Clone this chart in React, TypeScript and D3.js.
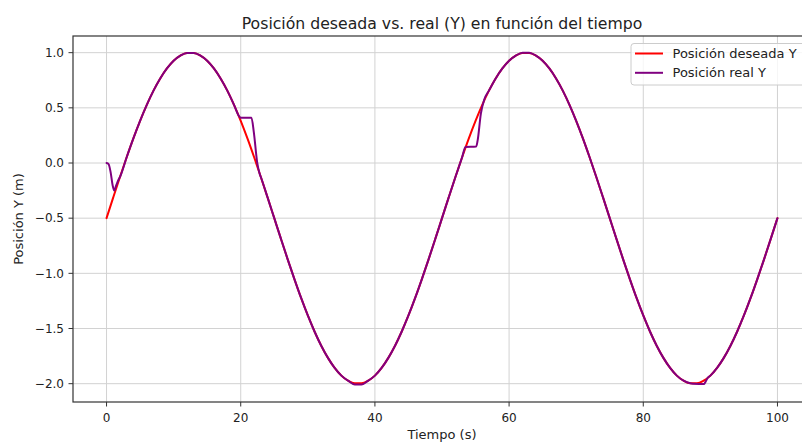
import React from "react";
import * as d3 from "d3";

const titleText = "Posición deseada vs. real (Y) en función del tiempo";
const xLabel = "Tiempo (s)";
const yLabel = "Posición Y (m)";
const seriesNames = ["Posición deseada Y", "Posición real Y"];
const seriesColors = ["#ff0000", "#800080"];

const xTicks = [0, 20, 40, 60, 80, 100];
const yTicks = [1.0, 0.5, 0.0, -0.5, -1.0, -1.5, -2.0];

// desired position, sampled each second from t = 0 to t = 100
const desiredTime = d3.range(0, 101);
const desiredY = [
  -0.5, -0.312, -0.127, 0.052, 0.223, 0.382, 0.527, 0.656, 0.766, 0.857,
  0.927, 0.973, 0.997, 0.997, 0.973, 0.927, 0.857, 0.766, 0.656, 0.527,
  0.382, 0.223, 0.052, -0.127, -0.312, -0.5, -0.688, -0.873, -1.052, -1.223,
  -1.382, -1.527, -1.656, -1.766, -1.857, -1.927, -1.973, -1.997, -1.997, -1.973,
  -1.927, -1.857, -1.766, -1.656, -1.527, -1.382, -1.223, -1.052, -0.873, -0.688,
  -0.5, -0.312, -0.127, 0.052, 0.223, 0.382, 0.527, 0.656, 0.766, 0.857,
  0.927, 0.973, 0.997, 0.997, 0.973, 0.927, 0.857, 0.766, 0.656, 0.527,
  0.382, 0.223, 0.052, -0.127, -0.312, -0.5, -0.688, -0.873, -1.052, -1.223,
  -1.382, -1.527, -1.656, -1.766, -1.857, -1.927, -1.973, -1.997, -1.997, -1.973,
  -1.927, -1.857, -1.766, -1.656, -1.527, -1.382, -1.223, -1.052, -0.873, -0.688,
  -0.5,
];

// real position
const realTime = [
  0, 0.3, 0.6, 0.9, 1.15, 1.4, 1.8, 2, 3, 4, 5, 6, 7, 8, 9, 10, 11, 12, 13, 14,
  15, 16, 17, 18, 19, 19.8, 20, 21.6, 21.95, 22.45, 22.8, 23, 24, 25, 26, 27, 28,
  29, 30, 31, 32, 33, 34, 35, 36, 37, 38, 39, 40, 41, 42, 43, 44, 45, 46, 47, 48,
  49, 50, 51, 52, 53, 53.5, 55.1, 55.3, 55.8, 56.3, 57, 58, 59, 60, 61, 62, 63,
  64, 65, 66, 67, 68, 69, 70, 71, 72, 73, 74, 75, 76, 77, 78, 79, 80, 81, 82, 83,
  84, 85, 86, 87, 87.5, 89, 89.6, 90, 91, 92, 93, 94, 95, 96, 97, 98, 99, 100,
];
const realY = [
  0, -0.01, -0.08, -0.2, -0.25, -0.21, -0.15, -0.127, 0.052, 0.223, 0.382, 0.527,
  0.656, 0.766, 0.857, 0.927, 0.973, 0.997, 0.997, 0.973, 0.927, 0.857, 0.766,
  0.656, 0.527, 0.42, 0.41, 0.41, 0.28, 0.006, -0.093, -0.127, -0.312, -0.5,
  -0.688, -0.873, -1.052, -1.223, -1.382, -1.527, -1.656, -1.766, -1.857, -1.927,
  -1.973, -2.008, -2.008, -1.973, -1.927, -1.857, -1.766, -1.656, -1.527, -1.382,
  -1.223, -1.052, -0.873, -0.688, -0.5, -0.312, -0.127, 0.052, 0.145, 0.15, 0.2,
  0.45, 0.575, 0.656, 0.766, 0.857, 0.927, 0.973, 1.0, 1.0, 0.973, 0.927, 0.857,
  0.766, 0.656, 0.527, 0.382, 0.223, 0.052, -0.127, -0.312, -0.5, -0.688, -0.873,
  -1.052, -1.223, -1.382, -1.527, -1.656, -1.766, -1.857, -1.927, -1.973, -1.997,
  -2.0, -2.003, -1.947, -1.927, -1.857, -1.766, -1.656, -1.527, -1.382, -1.223,
  -1.052, -0.873, -0.688, -0.5,
];

const W = 802;
const H = 442;
const left = 73;
const right = 811;
const top = 36;
const bottom = 402;
const FONT = "'DejaVu Sans', 'Liberation Sans', sans-serif";

export default function App() {
  const x = d3.scaleLinear().domain([-5, 105]).range([left, right]);
  const y = d3.scaleLinear().domain([-2.166, 1.151]).range([bottom, top]);

  const line = d3
    .line<[number, number]>()
    .x((d) => x(d[0]))
    .y((d) => y(d[1]))
    .curve(d3.curveMonotoneX);

  const desiredPts: [number, number][] = desiredTime.map((t, i) => [t, desiredY[i]]);
  const realPts: [number, number][] = realTime.map((t, i) => [t, realY[i]]);

  const gridColor = "#d2d2d2";
  const textColor = "#222";

  return (
    <svg
      width={W}
      height={H}
      style={{ position: "absolute", left: 0, top: 0, background: "#fff" }}
      fontFamily={FONT}
    >
      <rect x={0} y={0} width={W} height={H} fill="#fff" />
      {/* grid */}
      {xTicks.map((t) => (
        <line key={"gx" + t} x1={x(t)} x2={x(t)} y1={top} y2={bottom} stroke={gridColor} strokeWidth={1} />
      ))}
      {yTicks.map((t) => (
        <line key={"gy" + t} x1={left} x2={right} y1={y(t)} y2={y(t)} stroke={gridColor} strokeWidth={1} />
      ))}
      {/* lines */}
      <path d={line(desiredPts) || ""} fill="none" stroke={seriesColors[0]} strokeWidth={2} strokeLinejoin="round" strokeLinecap="round" />
      <path d={line(realPts) || ""} fill="none" stroke={seriesColors[1]} strokeWidth={2} strokeLinejoin="round" strokeLinecap="round" />
      {/* spines */}
      <rect x={left} y={top} width={right - left} height={bottom - top} fill="none" stroke="#333" strokeWidth={1.2} />
      {/* x ticks */}
      {xTicks.map((t) => (
        <g key={"xt" + t}>
          <line x1={x(t)} x2={x(t)} y1={bottom} y2={bottom + 4.5} stroke="#333" strokeWidth={1} />
          <text x={x(t)} y={bottom + 20} fontSize={12} textAnchor="middle" fill={textColor}>
            {t}
          </text>
        </g>
      ))}
      {/* y ticks */}
      {yTicks.map((t) => (
        <g key={"yt" + t}>
          <line x1={left - 4.5} x2={left} y1={y(t)} y2={y(t)} stroke="#333" strokeWidth={1} />
          <text x={left - 9} y={y(t)} dy="0.36em" fontSize={12} textAnchor="end" fill={textColor}>
            {d3.format(".1f")(t).replace("-", "\u2212")}
          </text>
        </g>
      ))}
      {/* title and labels */}
      <text x={(left + right) / 2} y={29} fontSize={15.7} textAnchor="middle" fill={textColor}>
        {titleText}
      </text>
      <text x={(left + right) / 2} y={438.5} fontSize={13} textAnchor="middle" fill={textColor}>
        {xLabel}
      </text>
      <text
        transform={`translate(23, ${(top + bottom) / 2}) rotate(-90)`}
        fontSize={13}
        textAnchor="middle"
        fill={textColor}
      >
        {yLabel}
      </text>
      {/* legend */}
      <rect x={631} y={43.5} width={200} height={41.5} rx={3} fill="#fff" fillOpacity={0.8} stroke="#cccccc" strokeWidth={1} />
      {seriesNames.map((name, i) => (
        <g key={name}>
          <line x1={635} x2={663} y1={53.5 + i * 19.3} y2={53.5 + i * 19.3} stroke={seriesColors[i]} strokeWidth={2} />
          <text x={672.5} y={53.5 + i * 19.3} dy="0.36em" fontSize={13} fill={textColor}>
            {name}
          </text>
        </g>
      ))}
    </svg>
  );
}
